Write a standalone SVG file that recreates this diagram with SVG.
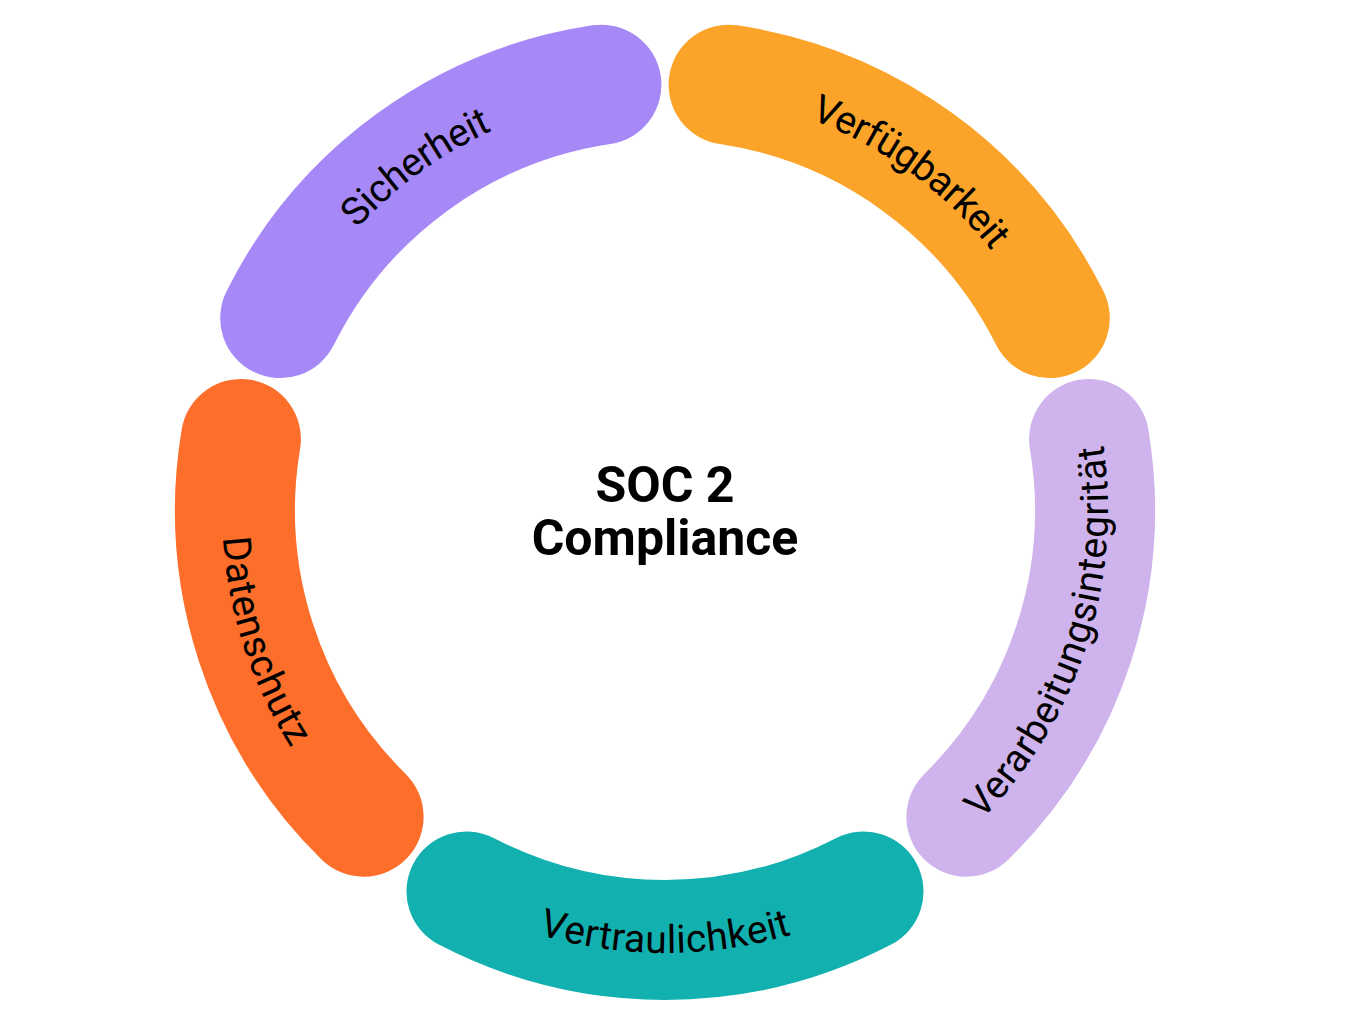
<svg xmlns="http://www.w3.org/2000/svg" xmlns:xlink="http://www.w3.org/1999/xlink" width="1370" height="1032" viewBox="0 0 1370 1032">
<style>
.seg{fill:none;stroke-width:120;stroke-linecap:round}
.lbl{font-family:Roboto,"Liberation Sans",sans-serif;font-size:39px;fill:#000;dominant-baseline:central;text-anchor:middle}
.ctr{font-family:Roboto,"Liberation Sans",sans-serif;font-size:50px;font-weight:700;fill:#000;text-anchor:middle}
</style>
<defs>
<path id="p1" d="M 280.2 318.1 A 430 430 0 0 1 601.4 84.7"/>
<path id="p2" d="M 728.6 84.7 A 430 430 0 0 1 1049.8 318.1"/>
<path id="p3" d="M 966.4 816.7 A 430 430 0 0 0 1089.1 439.0"/>
<path id="p4" d="M 466.5 891.4 A 430 430 0 0 0 863.5 891.4"/>
<path id="p5" d="M 240.9 439.0 A 430 430 0 0 0 363.6 816.7"/>
</defs>
<rect width="1370" height="1032" fill="#fff"/>
<g id="sicherheit">
<use xlink:href="#p1" class="seg" stroke="#A788F7"/>
<text class="lbl"><textPath xlink:href="#p1" startOffset="50%">Sicherheit</textPath></text>
</g>
<g id="verfuegbarkeit">
<use xlink:href="#p2" class="seg" stroke="#FCA42A"/>
<text class="lbl"><textPath xlink:href="#p2" startOffset="50%">Verfügbarkeit</textPath></text>
</g>
<g id="verarbeitungsintegritaet">
<use xlink:href="#p3" class="seg" stroke="#CFB3EC"/>
<text class="lbl"><textPath xlink:href="#p3" startOffset="50%">Verarbeitungsintegrität</textPath></text>
</g>
<g id="vertraulichkeit">
<use xlink:href="#p4" class="seg" stroke="#12B1B0"/>
<text class="lbl"><textPath xlink:href="#p4" startOffset="50%">Vertraulichkeit</textPath></text>
</g>
<g id="datenschutz">
<use xlink:href="#p5" class="seg" stroke="#FC6E29"/>
<text class="lbl"><textPath xlink:href="#p5" startOffset="50%">Datenschutz</textPath></text>
</g>
<g id="center">
<text class="ctr" x="665" y="502">SOC 2</text>
<text class="ctr" x="665" y="555">Compliance</text>
</g>
<g id="connectors"></g>
</svg>
